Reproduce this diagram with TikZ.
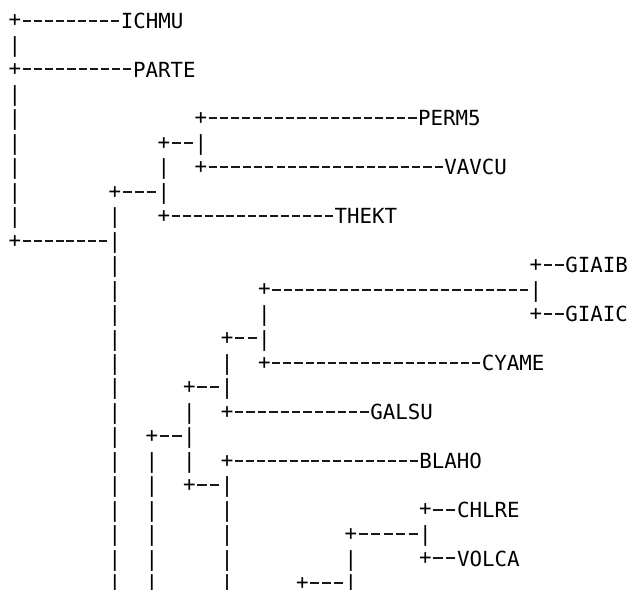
\documentclass[tikz,border=0pt]{standalone}
\usepackage{fontspec}
\setmonofont{DejaVu Sans Mono}
\tikzset{
  g/.style={inner sep=0pt, outer sep=0pt, anchor=base,
    font=\ttfamily\fontsize{20.8pt}{24pt}\selectfont,
    text height=15.2pt, text depth=0pt},
  lab/.style={g, anchor=base west},
  dashline/.style={line width=2pt, line cap=butt, black!90},
}
\newcommand\pnode[3]{\node[g] (#1) at (#2,{561.8-24.45*#3}) {\raisebox{1.2pt}{+}};}
\newcommand\bnode[3]{\node[g] (#1) at (#2,{561.8-24.45*#3}) {|};}
\newcommand\lnode[4]{\node[lab] (#1) at (#2,{561.8-24.45*#3}) {#4};}
\newcommand\run[3]{%
  \pgfpointanchor{#1}{east}\pgfgetlastxy{\rxa}{\rya}%
  \pgfpointanchor{#2}{west}\pgfgetlastxy{\rxb}{\ryb}%
  \pgfmathsetmacro\rcell{(\rxb-\rxa)/#3}%
  \pgfmathsetmacro\ron{0.73*\rcell}%
  \pgfmathsetmacro\roff{\rcell-\ron}%
  \pgfmathsetmacro\rph{\ron+\roff/2}%
  \pgfmathsetmacro\rsh{round(\rya)-\rya}%
  \draw[dashline, dash pattern=on \ron pt off \roff pt, dash phase=\rph pt]
    ([yshift=\rsh pt]#1.east) -- ([yshift=\rsh pt]#2.west);}
\begin{document}
\begin{tikzpicture}[x=1pt,y=1pt]
\fill[white] (0,0) rectangle (633,590);
\useasboundingbox (0,0) rectangle (633,590);
% row 0
\pnode{p0}{15}{0} \lnode{ichmu}{120.9}{0}{ICHMU} \run{p0}{ichmu}{9}
% row 1
\bnode{a1}{15}{1}
% row 2
\pnode{p2}{15}{2} \lnode{parte}{133}{2}{PARTE} \run{p2}{parte}{10}
% row 3
\bnode{a3}{15}{3}
% row 4
\bnode{a4}{15}{4} \pnode{p4}{201}{4} \lnode{perm}{418}{4}{PERM5} \run{p4}{perm}{19}
% row 5
\bnode{a5}{15}{5} \pnode{p5}{164}{5} \bnode{d5}{201}{5} \run{p5}{d5}{2}
% row 6
\bnode{a6}{15}{6} \bnode{c6}{164}{6} \pnode{p6}{201}{6} \lnode{vavcu}{444.4}{6}{VAVCU} \run{p6}{vavcu}{21}
% row 7
\bnode{a7}{15}{7} \pnode{p7}{115}{7} \bnode{c7}{164}{7} \run{p7}{c7}{3}
% row 8
\bnode{a8}{15}{8} \bnode{b8}{115}{8} \pnode{p8}{164}{8} \lnode{thekt}{334.5}{8}{THEKT} \run{p8}{thekt}{15}
% row 9
\pnode{p9}{15}{9} \bnode{b9}{115}{9} \run{p9}{b9}{8}
% row 10
\bnode{b10}{115}{10} \pnode{p10}{536}{10} \lnode{giaib}{565.3}{10}{GIAIB} \run{p10}{giaib}{2}
% row 11
\bnode{b11}{115}{11} \pnode{p11}{264.5}{11} \bnode{i11}{536}{11} \run{p11}{i11}{23}
% row 12
\bnode{b12}{115}{12} \bnode{h12}{264.5}{12} \pnode{p12}{536}{12} \lnode{giaic}{565.3}{12}{GIAIC} \run{p12}{giaic}{2}
% row 13
\bnode{b13}{115}{13} \pnode{p13}{227.2}{13} \bnode{h13}{264.5}{13} \run{p13}{h13}{2}
% row 14
\bnode{b14}{115}{14} \bnode{g14}{227.2}{14} \pnode{p14}{264.5}{14} \lnode{cyame}{481.8}{14}{CYAME} \run{p14}{cyame}{19}
% row 15
\bnode{b15}{115}{15} \pnode{p15}{189.5}{15} \bnode{g15}{227.2}{15} \run{p15}{g15}{2}
% row 16
\bnode{b16}{115}{16} \bnode{f16}{189.5}{16} \pnode{p16}{227.2}{16} \lnode{galsu}{370.3}{16}{GALSU} \run{p16}{galsu}{12}
% row 17
\bnode{b17}{115}{17} \pnode{p17}{152}{17} \bnode{f17}{189.5}{17} \run{p17}{f17}{2}
% row 18
\bnode{b18}{115}{18} \bnode{e18}{152}{18} \bnode{f18}{189.5}{18} \pnode{p18}{227.2}{18} \lnode{blaho}{419.3}{18}{BLAHO} \run{p18}{blaho}{17}
% row 19
\bnode{b19}{115}{19} \bnode{e19}{152}{19} \pnode{p19}{189.5}{19} \bnode{g19}{227.2}{19} \run{p19}{g19}{2}
% row 20
\bnode{b20}{115}{20} \bnode{e20}{152}{20} \bnode{g20}{227.2}{20} \pnode{p20}{425.5}{20} \lnode{chlre}{457}{20}{CHLRE} \run{p20}{chlre}{2}
% row 21
\bnode{b21}{115}{21} \bnode{e21}{152}{21} \bnode{g21}{227.2}{21} \pnode{p21}{351}{21} \bnode{k21}{425.5}{21} \run{p21}{k21}{5}
% row 22
\bnode{b22}{115}{22} \bnode{e22}{152}{22} \bnode{g22}{227.2}{22} \bnode{j22}{351}{22} \pnode{p22}{425.5}{22} \lnode{volca}{457}{22}{VOLCA} \run{p22}{volca}{2}
% row 23
\bnode{b23}{115}{23} \bnode{e23}{152}{23} \bnode{g23}{227.2}{23} \pnode{p23}{302.5}{23} \bnode{j23}{351}{23} \run{p23}{j23}{3}
\end{tikzpicture}
\end{document}
